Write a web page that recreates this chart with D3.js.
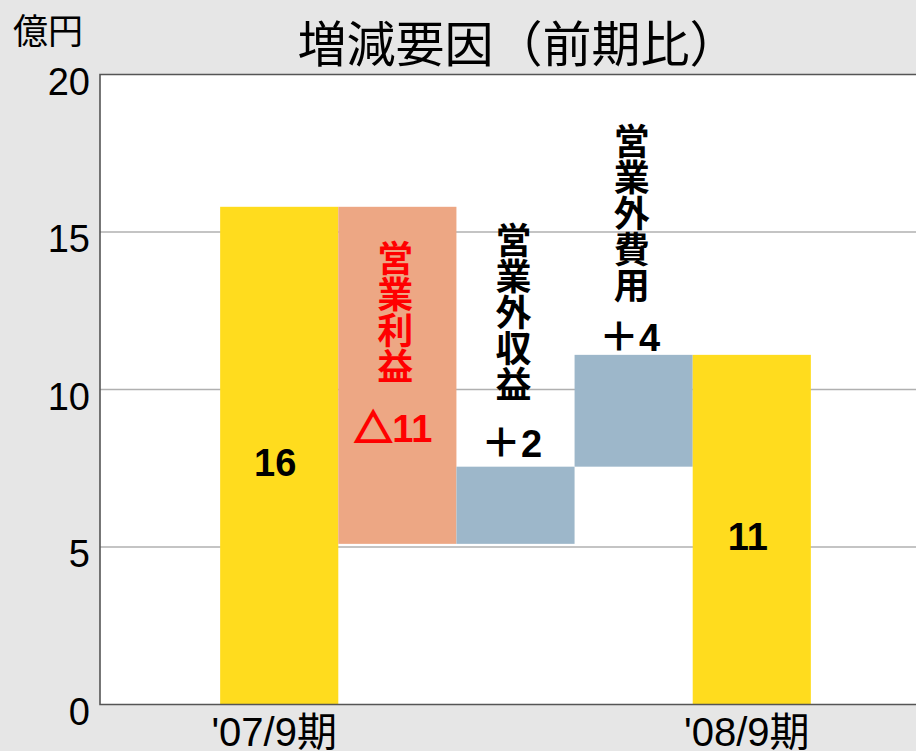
<!DOCTYPE html>
<html><head><meta charset="utf-8">
<script src="https://cdn.jsdelivr.net/npm/d3@7"></script>
<style>
html,body{margin:0;padding:0;background:#e6e6e6;overflow:hidden;}
</style></head>
<body>
<script>
// ---- data ----
const slots = ["pad0", "'07/9期", "営業利益", "営業外収益", "営業外費用", "'08/9期", "pad1"];
const xTickLabels = ["'07/9期", "'08/9期"];
const startValue = 15.8;
const factorNames = ["営業利益", "営業外収益", "営業外費用"];
const factorDeltas = [-10.7, 2.45, 3.55];
const endValue = 11.1;
const valueLabels = ["16", "△11", "＋2", "＋4", "11"];
const yTicks = [0, 5, 10, 15, 20];
const unitLabel = "億円";
const title = "増減要因（前期比）";

// build waterfall bars
const bars = [];
bars.push({key: slots[1], low: 0, high: startValue, kind: "total", label: valueLabels[0]});
let run = startValue;
factorNames.forEach((n, i) => {
  const d = factorDeltas[i];
  const low = Math.min(run, run + d), high = Math.max(run, run + d);
  bars.push({key: n, low, high, kind: d < 0 ? "neg" : "pos", label: valueLabels[i + 1]});
  run += d;
});
bars.push({key: slots[5], low: 0, high: endValue, kind: "total", label: valueLabels[4]});

const W = 916, H = 751;
const colors = {total: "#ffdc1e", neg: "#eda784", pos: "#9db7ca"};
const cjk = "'Noto Sans CJK JP', sans-serif";
const latin = "'Liberation Sans', Arial, 'Noto Sans CJK JP', sans-serif";

const svg = d3.select("body").append("svg").attr("width", W).attr("height", H);
svg.append("rect").attr("width", W).attr("height", H).attr("fill", "#e6e6e6");

const x = d3.scaleBand().domain(slots).range([102, 929]).padding(0);
const y = d3.scaleLinear().domain([0, 20]).range([704.5, 74.5]);

// plot area
svg.append("rect").attr("x", 100).attr("y", y(20)).attr("width", 830).attr("height", y(0) - y(20))
  .attr("fill", "#fff");

// gridlines
svg.append("g").selectAll("line").data(yTicks.filter(t => t > 0 && t < 20)).join("line")
  .attr("x1", 100).attr("x2", 930).attr("y1", d => y(d)).attr("y2", d => y(d))
  .attr("stroke", "#b0b0b0").attr("stroke-width", 1.5);

// bars
svg.append("g").selectAll("rect").data(bars).join("rect")
  .attr("x", d => x(d.key)).attr("width", x.bandwidth())
  .attr("y", d => y(d.high)).attr("height", d => y(d.low) - y(d.high))
  .attr("fill", d => colors[d.kind]);

// frame
svg.append("path")
  .attr("d", `M930,${y(20)}H100V${y(0)}H930`)
  .attr("fill", "none").attr("stroke", "#555").attr("stroke-width", 1.6);

// y axis labels
const yAxis = d3.axisLeft(y).tickValues(yTicks).tickSize(0).tickPadding(0).tickFormat(d3.format("d"));
const ya = svg.append("g").attr("transform", "translate(90,0)").call(yAxis);
ya.select(".domain").remove();
ya.selectAll("text").attr("font-family", latin).attr("font-size", 38).attr("fill", "#000")
  .attr("dy", "0.52em");

// x axis labels
const xAxis = d3.axisBottom(x).tickValues(xTickLabels).tickSize(0).tickPadding(0);
const xa = svg.append("g").attr("transform", `translate(-5,${y(0)})`).call(xAxis);
xa.select(".domain").remove();
xa.selectAll("text").attr("font-family", latin).attr("font-size", 40).attr("fill", "#000")
  .attr("dy", null).attr("y", 41);

// unit + title
svg.append("text").attr("x", 13).attr("y", 44).text(unitLabel)
  .attr("font-family", cjk).attr("font-size", 35).attr("fill", "#000");
svg.append("text").attr("x", 518).attr("y", 62).attr("text-anchor", "middle").text(title)
  .attr("font-family", cjk).attr("font-size", 49).attr("fill", "#000");

// value labels
const cx = k => x(k) + x.bandwidth() / 2;
const lbl = svg.append("g").attr("font-family", latin).attr("font-weight", "bold")
  .attr("font-size", 38).attr("text-anchor", "middle");
function valueLabelY(d) {
  if (d.kind === "total") return y((d.low + d.high) / 2) + 20;
  if (d.kind === "neg") return y(d.low) - 102;
  return y(d.high) - (d.key === factorNames[1] ? 10 : 4);
}
const vt = lbl.selectAll("text").data(bars).join("text")
  .attr("x", d => cx(d.key) - 4).attr("y", valueLabelY)
  .attr("fill", d => d.kind === "neg" ? "#ff0000" : "#000");
vt.each(function(d) {
  const t = d3.select(this);
  const sym = d.label.match(/^[△＋]/);
  const col = d.kind === "neg" ? "#ff0000" : "#000";
  if (sym) {
    const s = t.append("tspan").attr("font-family", cjk).text(sym[0]);
    if (sym[0] === "△") s.attr("font-weight", "900").attr("stroke", col).attr("stroke-width", 2);
    else s.attr("font-weight", "bold").attr("font-size", 40);
    t.append("tspan").text(d.label.slice(1));
  } else {
    t.text(d.label);
  }
});

// vertical factor names
const nameTop = {"営業利益": y(15.8) + 65, "営業外収益": y(7.55) - 213, "営業外費用": y(11.1) - 200};
factorNames.forEach((n, i) => {
  const chars = Array.from(n);
  const g = svg.append("g").attr("font-family", cjk).attr("font-weight", "bold")
    .attr("font-size", 36).attr("text-anchor", "middle")
    .attr("fill", factorDeltas[i] < 0 ? "#ff0000" : "#000");
  g.selectAll("text").data(chars).join("text")
    .attr("x", cx(n) - 2)
    .attr("y", (c, j) => nameTop[n] + j * 36)
    .text(c => c);
});
</script>
</body></html>
